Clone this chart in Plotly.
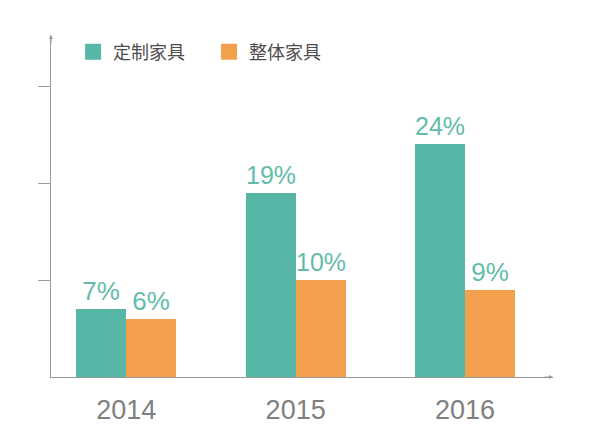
import plotly.graph_objects as go

years = [2014, 2015, 2016]
custom = [7, 19, 24]      # 定制家具
whole = [6, 10, 9]        # 整体家具
series_names = ['定制家具', '整体家具']

TEAL = '#58B6A6'
ORANGE = '#F2A04B'
AXIS = '#9a9a9a'
NUM_FONT = 'Liberation Sans, Arial, sans-serif'
CJK_FONT = 'Noto Sans CJK SC, sans-serif'

fig = go.Figure()

for vals, name, col, off in [(custom, series_names[0], TEAL, -0.296),
                             (whole, series_names[1], ORANGE, 0.0)]:
    fig.add_trace(go.Bar(
        x=years, y=vals, name=name, width=0.296, offset=off,
        marker=dict(color=col, line=dict(width=0)),
        text=[f'{v}%' for v in vals], textposition='outside',
        textfont=dict(family=NUM_FONT, size=26, color='#63BCAB'),
        cliponaxis=False, showlegend=False,
    ))
    # legend swatch
    fig.add_trace(go.Scatter(
        x=[None], y=[None], mode='markers', name=name,
        marker=dict(symbol='square', size=18, color=col),
    ))

# page has an 8px body margin, so margins are shifted by that
fig.update_layout(
    width=600, height=444,
    margin=dict(l=43, r=55, t=27, b=75),
    paper_bgcolor='white', plot_bgcolor='white',
    legend=dict(orientation='h', x=0.044, y=0.95, xanchor='left', yanchor='middle',
                font=dict(family=CJK_FONT, size=18, color='#4d4d4d'),
                entrywidth=91, entrywidthmode='pixels',
                tracegroupgap=0, bgcolor='rgba(0,0,0,0)'),
    xaxis=dict(range=[2013.555, 2016.52], tickvals=years, ticktext=[str(y) for y in years],
               showgrid=False, zeroline=False, showline=True, linecolor=AXIS, linewidth=1,
               ticks='outside', ticklen=9, tickcolor='rgba(0,0,0,0)',
               tickfont=dict(family=NUM_FONT, size=27, color='#808080')),
    yaxis=dict(range=[0, 35.26], tickvals=[10, 20, 30], showticklabels=False,
               showgrid=False, zeroline=False, showline=True, linecolor=AXIS, linewidth=1,
               ticks='outside', ticklen=12, tickcolor=AXIS, tickwidth=1),
    bargap=0,
)

# arrow heads at axis ends
fig.add_annotation(x=0, y=1, xref='paper', yref='paper', ax=0, ay=10, showarrow=True,
                   arrowhead=2, arrowsize=0.8, arrowwidth=1, arrowcolor=AXIS, text='')
fig.add_annotation(x=1, y=0, xref='paper', yref='paper', ax=-10, ay=0, showarrow=True,
                   arrowhead=2, arrowsize=0.8, arrowwidth=1, arrowcolor=AXIS, text='')

fig.write_html("out.html")
